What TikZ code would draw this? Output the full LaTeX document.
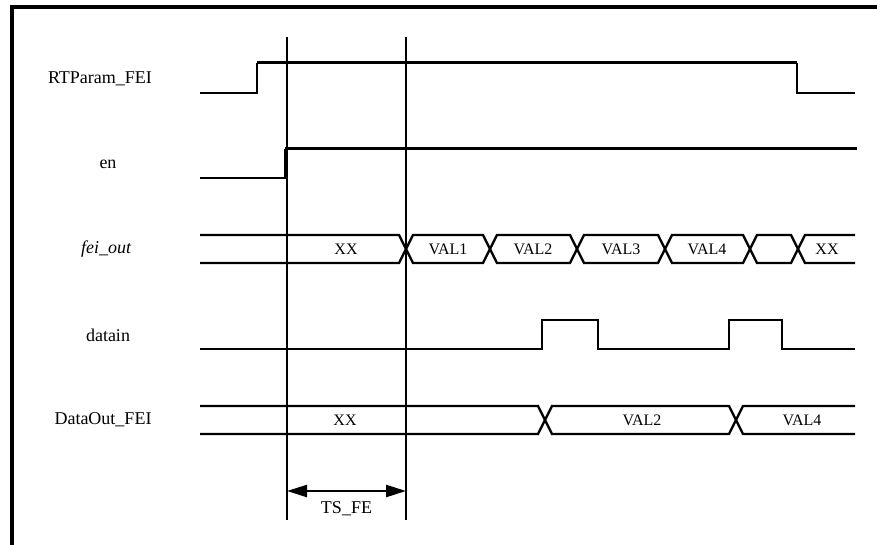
\documentclass[tikz,border=0pt]{standalone}
\usepackage{fontspec}
\setmainfont{Liberation Serif}
\usepackage{tikz}
\usetikzlibrary{arrows.meta, calc, positioning}
\tikzstyle{signame} = [font=\fontsize{13.5}{16}\selectfont, inner sep=0pt]
\tikzstyle{val} = [font=\fontsize{12}{14}\selectfont, inner sep=0pt]
\tikzstyle{wire} = [line width=1.5pt]
\tikzstyle{high} = [line width=2.25pt]
\tikzstyle{bus} = [line width=1.7pt, line join=miter]
\tikzstyle{marker} = [line width=1.5pt]
\tikzstyle{frame} = [line width=2.4pt]
\tikzstyle{arrow} = [line width=1.8pt,{Triangle[length=15pt,width=9pt]}-{Triangle[length=15pt,width=9pt]}]

\begin{document}
\begin{tikzpicture}[x=0.75pt, y=-0.75pt]
	\useasboundingbox (0,0) rectangle (877,545);
	\draw [frame] (12,545) -- (12,7) -- (877,7);
	% signal names
	\node (RTParam) [signame] at (100,79) {RTParam\_FEI};
	\node (En) [signame] at (108,164) {en};
	\node (FeiOut) [signame] at (106,249) {\itshape fei\_out};
	\node (Datain) [signame] at (108,335) {datain};
	\node (DataOut) [signame] at (103,420) {DataOut\_FEI};
	% RTParam_FEI
	\draw [wire] (200,93) -- (257,93) -- (257,63);
	\draw [high] (257,63) -- (797,63);
	\draw [wire] (797,63) -- (797,93) -- (855,93);
	% en
	\draw [wire] (200,178) -- (285,178) -- (285,149);
	\draw [high] (285,149) -- (857,149);
	% fei_out
	\draw [bus] (200,235) -- (399,235) -- (406,249) -- (399,263) -- (200,263);
	\foreach \a/\b in {406/490, 490/577, 577/665, 665/750, 750/798}
		\draw [bus] (\a+7,235) -- (\b-7,235) -- (\b,249) -- (\b-7,263) -- (\a+7,263) -- (\a,249) -- cycle;
	\draw [bus] (855,235) -- (805,235) -- (798,249) -- (805,263) -- (855,263);
	\node (FeiXX) [val] at (346,249) {XX};
	\node (FeiVal1) [val] at (448,249) {VAL1};
	\node (FeiVal2) [val] at (533,249) {VAL2};
	\node (FeiVal3) [val] at (621,249) {VAL3};
	\node (FeiVal4) [val] at (707,249) {VAL4};
	\node (FeiXX2) [val] at (827,249) {XX};
	% datain
	\draw [wire] (200,349) -- (542,349) -- (542,320) -- (598,320) -- (598,349) -- (729,349) -- (729,320) -- (782,320) -- (782,349) -- (855,349);
	% DataOut_FEI
	\draw [bus] (200,406) -- (538,406) -- (545,420) -- (538,434) -- (200,434);
	\draw [bus] (552,406) -- (729,406) -- (736,420) -- (729,434) -- (552,434) -- (545,420) -- cycle;
	\draw [bus] (855,406) -- (743,406) -- (736,420) -- (743,434) -- (855,434);
	\node (OutXX) [val] at (345,420) {XX};
	\node (OutVal2) [val] at (642,420) {VAL2};
	\node (OutVal4) [val] at (802,420) {VAL4};
	% timing markers
	\coordinate (MarkA) at (287,37);
	\coordinate (MarkB) at (406,37);
	\draw [marker] (MarkA) -- ++(0,483) coordinate (MarkAEnd);
	\draw [marker] (MarkB) -- ++(0,483) coordinate (MarkBEnd);
	\coordinate (TsLeft) at ($(MarkA)+(0,454)$);
	\coordinate (TsRight) at ($(MarkB)+(0,454)$);
	\draw [arrow] (TsLeft) -- (TsRight);
	\node (TsFe) [signame, below = 8pt of $(TsLeft)!0.5!(TsRight)$] {TS\_FE};
\end{tikzpicture}
\end{document}
